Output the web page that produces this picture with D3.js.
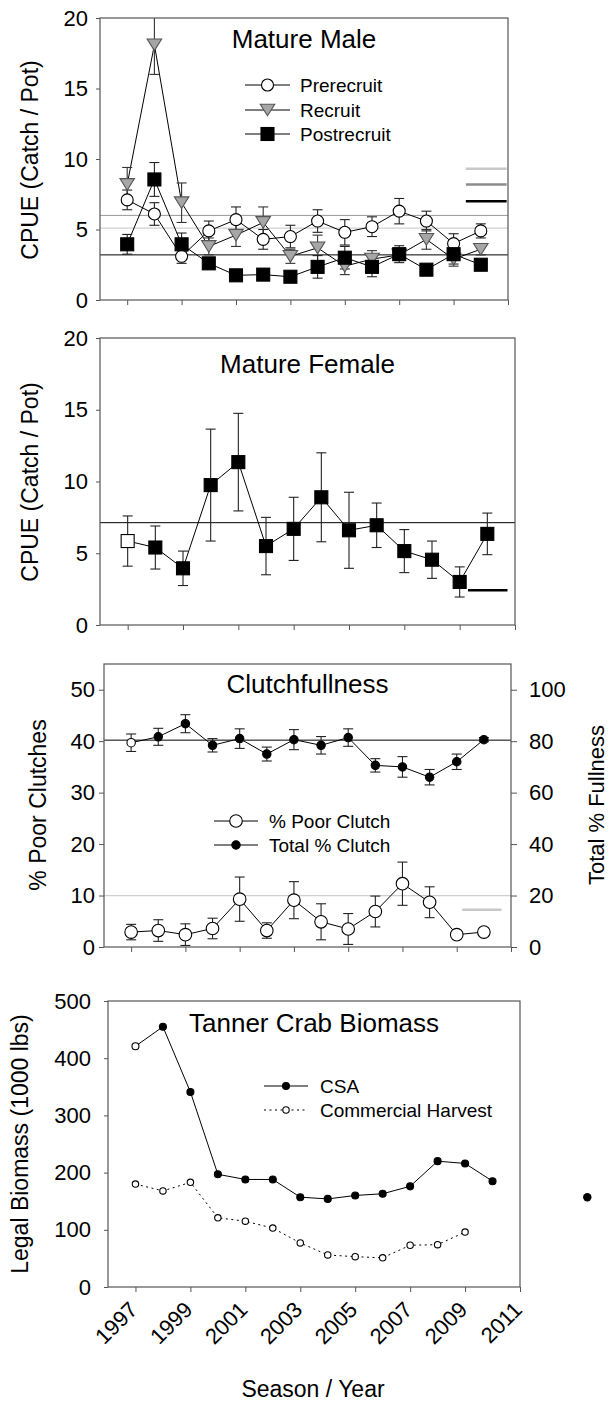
<!DOCTYPE html>
<html><head><meta charset="utf-8">
<script src="https://cdn.jsdelivr.net/npm/d3@7"></script>
<style>
body{margin:0;background:#fff}
svg text{font-family:Arial,"Liberation Sans",sans-serif;fill:#000}
</style>
</head><body>
<svg id="c" width="610" height="1401"></svg>
<script>
// ---------- DATA ----------
const years = [1997,1998,1999,2000,2001,2002,2003,2004,2005,2006,2007,2008,2009,2010];
const xTickValues = [1997,1999,2001,2003,2005,2007,2009,2011];

// Panel 1: Mature Male CPUE
const prerecruit    = [7.1, 6.1, 3.1, 4.9, 5.7, 4.3, 4.5, 5.6, 4.8, 5.2, 6.3, 5.6, 4.0, 4.9];
const prerecruitErr = [0.7, 0.8, 0.5, 0.7, 0.9, 0.7, 0.8, 0.8, 0.9, 0.7, 0.9, 0.7, 0.7, 0.5];
const recruit       = [8.2, 18.1, 6.9, 3.8, 4.6, 5.5, 3.1, 3.7, 2.4, 2.9, 3.2, 4.3, 2.9, 3.6];
const recruitErr    = [1.2, 2.1, 1.4, 0.6, 0.8, 1.1, 0.5, 0.9, 0.6, 0.6, 0.4, 0.7, 0.5, 0.4];
const postrecruit   = [3.95, 8.55, 3.95, 2.6, 1.75, 1.8, 1.65, 2.35, 3.0, 2.35, 3.25, 2.15, 3.25, 2.5];
const postrecruitErr= [0.7, 1.2, 0.8, 0.3, 0.2, 0.2, 0.2, 0.8, 0.8, 0.7, 0.6, 0.2, 0.7, 0.3];
const maleRefLines  = [6.0, 5.1, 3.2];          // grey, light grey, black
const maleShortLines= [9.3, 8.2, 7.0];          // light grey, grey, black
const cpueTicks     = [0,5,10,15,20];

// Panel 2: Mature Female CPUE
const female    = [5.85, 5.4, 3.95, 9.75, 11.35, 5.5, 6.7, 8.9, 6.6, 6.95, 5.15, 4.55, 3.0, 6.35];
const femaleErr = [1.75, 1.5, 1.2, 3.9, 3.4, 2.0, 2.2, 3.1, 2.65, 1.55, 1.5, 1.3, 1.05, 1.45];
const femaleRefLine = 7.13;
const femaleShortLine = 2.42;

// Panel 3: Clutchfullness
const poorClutch    = [2.9, 3.2, 2.4, 3.6, 9.3, 3.2, 9.1, 4.9, 3.5, 6.9, 12.3, 8.7, 2.4, 2.9];
const poorClutchErr = [1.5, 2.1, 2.1, 2.0, 4.3, 1.5, 3.6, 3.5, 3.0, 3.0, 4.2, 3.0, 0.5, 0.6];
const totalClutch   = [79.4, 81.7, 86.8, 78.4, 81.0, 75.0, 80.6, 78.4, 81.4, 70.6, 70.0, 66.0, 72.0, 80.6];
const totalClutchErr= [3.4, 3.3, 3.5, 2.6, 3.8, 2.7, 3.9, 3.4, 3.4, 2.6, 4.0, 3.0, 3.0, 0.8];
const poorRefLine = 10.0, poorShortLine = 7.25, totalRefLine = 80.4;
const poorTicks  = [0,10,20,30,40,50];
const totalTicks = [0,20,40,60,80,100];

// Panel 4: Tanner Crab Biomass
const csa      = [421, 455, 341, 197, 188, 188, 157, 154, 160, 163, 176, 220, 216, 185];
const harvestYears = [1997,1998,1999,2000,2001,2002,2003,2004,2005,2006,2007,2008,2009];
const harvest  = [180, 168, 183, 121, 115, 103, 77, 56, 53, 51, 73, 74, 96];
const strayPoint = [{year: 2013.45, value: 157}];
const biomassTicks = [0,100,200,300,400,500];

// ---------- DRAWING ----------
const svg = d3.select("#c");
const FRAME = "#555";
let clipId = 0;

function makePanel(o){
  const x = d3.scaleLinear().domain([1996, 2011]).range([o.left, o.right]);
  const y = d3.scaleLinear().domain(o.yDomain).range([o.bottom, o.top]);
  const id = "clip" + (clipId++);
  svg.append("clipPath").attr("id", id).append("rect")
    .attr("x", o.left).attr("y", o.top).attr("width", o.right - o.left).attr("height", o.bottom - o.top);
  const ga = svg.append("g").attr("transform", `translate(${o.left},0)`)
    .call(d3.axisLeft(y).tickValues(o.yTicks).tickSize(o.tickSize).tickPadding(o.pad));
  ga.select(".domain").remove();
  ga.selectAll("line").attr("stroke", FRAME);
  ga.selectAll("text").style("font-size", "22px").attr("fill", "#000");
  const gb = svg.append("g").attr("transform", `translate(0,${o.bottom})`)
    .call(d3.axisBottom(x).tickValues(xTickValues).tickSize(5).tickFormat(o.xLabels ? d3.format("d") : ""));
  gb.select(".domain").remove();
  gb.selectAll("line").attr("stroke", FRAME);
  if (o.xLabels){
    gb.selectAll("text").style("font-size", "22px").attr("fill","#000")
      .attr("y", 0).attr("dy", 0).attr("x", 0)
      .style("text-anchor", "end")
      .attr("transform", "translate(3,24) rotate(-45)");
  }
  const plot = svg.append("g").attr("clip-path", `url(#${id})`);
  return {x, y, plot, o};
}

function frame(p){
  svg.append("rect").attr("x", p.o.left).attr("y", p.o.top)
    .attr("width", p.o.right - p.o.left).attr("height", p.o.bottom - p.o.top)
    .attr("fill", "none").attr("stroke", FRAME).attr("stroke-width", 1.2);
}

function hline(p, v, color, w, x0, x1){
  p.plot.append("line")
    .attr("x1", x0 === undefined ? p.o.left : p.x(x0))
    .attr("x2", x1 === undefined ? p.o.right : p.x(x1))
    .attr("y1", p.y(v)).attr("y2", p.y(v))
    .attr("stroke", color).attr("stroke-width", w);
}

function errBars(p, xs, vals, errs, color, yScale){
  const ys = yScale || p.y;
  const g = p.plot.append("g").attr("stroke", color).attr("stroke-width", 1.1);
  xs.forEach((yr, i) => {
    const cx = p.x(yr), lo = ys(vals[i] - errs[i]), hi = ys(vals[i] + errs[i]);
    g.append("line").attr("x1", cx).attr("x2", cx).attr("y1", lo).attr("y2", hi);
    g.append("line").attr("x1", cx-5).attr("x2", cx+5).attr("y1", lo).attr("y2", lo);
    g.append("line").attr("x1", cx-5).attr("x2", cx+5).attr("y1", hi).attr("y2", hi);
  });
}

function seriesLine(p, xs, vals, yScale, dash){
  const ys = yScale || p.y;
  p.plot.append("path")
    .datum(xs.map((yr, i) => [yr, vals[i]]))
    .attr("d", d3.line().x(d => p.x(d[0])).y(d => ys(d[1])))
    .attr("fill", "none").attr("stroke", "#000").attr("stroke-width", 1)
    .attr("stroke-dasharray", dash || null);
}

function marker(g, type, cx, cy, size, fill, stroke){
  if (type === "circle"){
    g.append("circle").attr("cx", cx).attr("cy", cy).attr("r", size)
      .attr("fill", fill).attr("stroke", stroke).attr("stroke-width", 1.1);
  } else if (type === "square"){
    g.append("rect").attr("x", cx - size/2).attr("y", cy - size/2)
      .attr("width", size).attr("height", size)
      .attr("fill", fill).attr("stroke", stroke).attr("stroke-width", 1.1);
  } else if (type === "tri"){
    const s = size, h = s * 0.8;
    g.append("path")
      .attr("d", `M${cx - s/2},${cy - h/2}L${cx + s/2},${cy - h/2}L${cx},${cy + h/2}Z`)
      .attr("fill", fill).attr("stroke", stroke).attr("stroke-width", 1.1);
  }
}

function markers(p, xs, vals, type, size, fillFn, stroke, yScale){
  const ys = yScale || p.y;
  const g = p.plot.append("g");
  xs.forEach((yr, i) => marker(g, type, p.x(yr), ys(vals[i]), size, fillFn(i), stroke));
}

function title(p, txt, baseline){
  svg.append("text").attr("x", (p.o.left + p.o.right)/2).attr("y", baseline)
    .attr("text-anchor", "middle").style("font-size", "26px").text(txt);
}

function yLabel(txt, xb, yc, fs){
  svg.append("text").attr("transform", `translate(${xb},${yc}) rotate(-90)`)
    .attr("text-anchor", "middle").style("font-size", (fs || 23) + "px").text(txt);
}

function legendItem(x0, x1, yc, tx, txt, type, size, fill, stroke, dash){
  svg.append("line").attr("x1", x0).attr("x2", x1).attr("y1", yc).attr("y2", yc)
    .attr("stroke", "#000").attr("stroke-width", 1).attr("stroke-dasharray", dash || null);
  marker(svg, type, (x0 + x1)/2, yc, size, fill, stroke);
  svg.append("text").attr("x", tx).attr("y", yc).attr("dy", "0.35em")
    .style("font-size", "19px").text(txt);
}

// ---- Panel 1: Mature Male ----
{
  const p = makePanel({left:100, right:508, top:18, bottom:300, yDomain:[0,20], yTicks:cpueTicks, tickSize:4, pad:8});
  hline(p, maleRefLines[0], "#999", 1);
  hline(p, maleRefLines[1], "#d0d0d0", 1.2);
  hline(p, maleRefLines[2], "#000", 1);
  hline(p, maleShortLines[0], "#c8c8c8", 2.5, 2009.45, 2010.95);
  hline(p, maleShortLines[1], "#8c8c8c", 2.5, 2009.45, 2010.95);
  hline(p, maleShortLines[2], "#000", 2.5, 2009.45, 2010.95);
  seriesLine(p, years, prerecruit);
  seriesLine(p, years, recruit);
  seriesLine(p, years, postrecruit);
  errBars(p, years, prerecruit, prerecruitErr, "#222");
  errBars(p, years, recruit, recruitErr, "#333");
  errBars(p, years, postrecruit, postrecruitErr, "#222");
  markers(p, years, prerecruit, "circle", 6, () => "#fff", "#000");
  markers(p, years, recruit, "tri", 14.5, () => "#a6a6a6", "#555");
  markers(p, years, postrecruit, "square", 13, () => "#000", "#000");
  frame(p);
  title(p, "Mature Male", 48);
  yLabel("CPUE (Catch / Pot)", 38, 160);
  legendItem(245, 290, 85, 300, "Prerecruit", "circle", 6, "#fff", "#000");
  legendItem(245, 290, 110, 300, "Recruit", "tri", 14.5, "#a6a6a6", "#555");
  legendItem(245, 290, 134, 300, "Postrecruit", "square", 13, "#000", "#000");
}

// ---- Panel 2: Mature Female ----
{
  const p = makePanel({left:100, right:515, top:338, bottom:625, yDomain:[0,20], yTicks:cpueTicks, tickSize:4, pad:8});
  hline(p, femaleRefLine, "#000", 1);
  hline(p, femaleShortLine, "#000", 2.5, 2009.3, 2010.73);
  seriesLine(p, years, female);
  errBars(p, years, female, femaleErr, "#222");
  markers(p, years, female, "square", 13, i => i === 0 ? "#fff" : "#000", "#000");
  frame(p);
  title(p, "Mature Female", 373);
  yLabel("CPUE (Catch / Pot)", 38, 482);
}

// ---- Panel 3: Clutchfullness ----
{
  const p = makePanel({left:104, right:511, top:664, bottom:947, yDomain:[0,55], yTicks:poorTicks, tickSize:5, pad:4});
  const yR = d3.scaleLinear().domain([0,110]).range([947, 664]);
  const gr = svg.append("g").attr("transform", "translate(511,0)")
    .call(d3.axisRight(yR).tickValues(totalTicks).tickSize(6).tickPadding(12));
  gr.select(".domain").remove();
  gr.selectAll("line").attr("stroke", FRAME);
  gr.selectAll("text").style("font-size","22px").attr("fill","#000");
  hline(p, totalRefLine/2, "#000", 1);
  hline(p, poorRefLine, "#d0d0d0", 1.3);
  hline(p, poorShortLine, "#c8c8c8", 2.5, 2009.2, 2010.65);
  seriesLine(p, years, totalClutch, yR);
  seriesLine(p, years, poorClutch);
  errBars(p, years, totalClutch, totalClutchErr, "#222", yR);
  errBars(p, years, poorClutch, poorClutchErr, "#222");
  markers(p, years, totalClutch, "circle", 4.2, i => i === 0 ? "#fff" : "#000", "#000", yR);
  markers(p, years, poorClutch, "circle", 6.3, () => "#fff", "#000");
  frame(p);
  title(p, "Clutchfullness", 693);
  yLabel("% Poor Clutches", 46, 805);
  yLabel("Total % Fullness", 604, 805, 22);
  legendItem(214, 258, 821, 269, "% Poor Clutch", "circle", 6.3, "#fff", "#000");
  legendItem(214, 258, 845, 269, "Total % Clutch", "circle", 4.2, "#000", "#000");
}

// ---- Panel 4: Tanner Crab Biomass ----
{
  const p = makePanel({left:108, right:520, top:1001, bottom:1287, yDomain:[0,500], yTicks:biomassTicks, tickSize:4, pad:13, xLabels:true});
  seriesLine(p, years, csa);
  seriesLine(p, harvestYears, harvest, null, "2,3.5");
  markers(p, harvestYears, harvest, "circle", 3.2, () => "#fff", "#000");
  markers(p, years, csa, "circle", 3.5, i => i === 0 ? "#fff" : "#000", "#000");
  frame(p);
  strayPoint.forEach(d => {
    svg.append("circle").attr("cx", p.x(d.year)).attr("cy", p.y(d.value)).attr("r", 4.2).attr("fill", "#000");
  });
  title(p, "Tanner Crab Biomass", 1032);
  yLabel("Legal Biomass (1000 lbs)", 28, 1144);
  legendItem(264, 308, 1086, 320, "CSA", "circle", 3.5, "#000", "#000");
  legendItem(264, 308, 1110, 320, "Commercial Harvest", "circle", 3.2, "#fff", "#000", "2,3.5");
  svg.append("text").attr("x", 313).attr("y", 1397).attr("text-anchor","middle")
    .style("font-size","23px").text("Season / Year");
}
</script>
</body></html>
